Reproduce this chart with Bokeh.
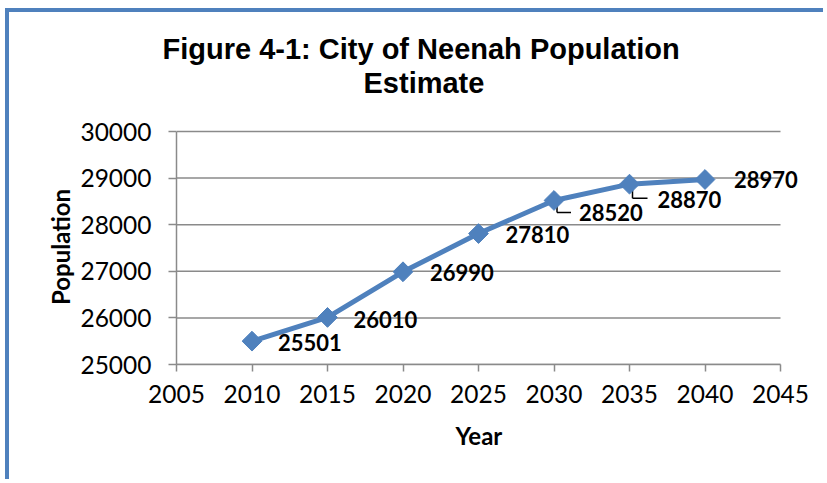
from bokeh.plotting import figure
from bokeh.models import (Title, FixedTicker, Range1d, ColumnDataSource, LabelSet,
                          LinearAxis)
from bokeh.core.properties import value
from bokeh.embed import file_html
from bokeh.resources import INLINE

# ---- data ----
years = [2010, 2015, 2020, 2025, 2030, 2035, 2040]
population = [25501, 26010, 26990, 27810, 28520, 28870, 28970]
x_ticks = [2005, 2010, 2015, 2020, 2025, 2030, 2035, 2040, 2045]
y_ticks = [25000, 26000, 27000, 28000, 29000, 30000]
title_lines = ["Figure 4-1:  City of Neenah Population", "Estimate"]
x_title = "Year"
y_title = "Population"

# label placement (pixels, styling only; negative dy = below the point)
label_dx = [26, 26, 27, 27, 25, 28, 29]
label_dy = [-1, -2, -1, -1, -12, -15, 0]
leader_idx = [4, 5]
leader_down = [12, 14]
leader_right = [14, 15]

BLUE = "#4F81BD"
GRID = "#8A8A8A"
FONT = "Lato"

W, H = 818, 471
px_x = 604 / 40.0        # pixels per year
px_y = 233 / 5000.0      # pixels per person
ML, MB = 167, 119
x0, x1 = x_ticks[0], x_ticks[-1]
y0, y1 = y_ticks[0], y_ticks[-1]
frame_w = 634                       # leaves room right of 2045 for the last label
frame_h = 235                       # a hair above 30000 so the top grid line is whole
MR = W - ML - frame_w
MT = H - MB - frame_h
xr_end = x0 + frame_w / px_x
yr_end = y0 + frame_h / px_y

p = figure(width=W, height=H, output_backend="svg", toolbar_location=None,
           x_range=Range1d(x0, xr_end), y_range=Range1d(y0, yr_end),
           min_border_left=ML, min_border_right=MR,
           min_border_top=MT, min_border_bottom=MB)
p.styles = {"border-top": "4px solid " + BLUE, "border-left": "4px solid " + BLUE,
            "margin-left": "5px", "margin-top": "8px"}

p.outline_line_color = None
p.background_fill_color = "white"
p.border_fill_color = "white"

# axes
xa = p.below[0]
ya = p.left[0]
xa.ticker = FixedTicker(ticks=x_ticks)
ya.ticker = FixedTicker(ticks=y_ticks)
for ax in (xa, ya):
    ax.axis_line_color = GRID
    ax.axis_line_width = 1.5
    ax.major_tick_line_color = GRID
    ax.major_tick_line_width = 1.5
    ax.major_tick_in = 0
    ax.minor_tick_line_color = None
    ax.major_label_text_font = FONT
    ax.major_label_text_font_size = "24.5px"
    ax.major_label_text_color = "black"
    ax.axis_label_text_font = FONT
    ax.axis_label_text_font_size = "24px"
    ax.axis_label_text_font_style = "bold"
    ax.axis_label_text_color = "black"
xa.bounds = (x0, x1)
ya.bounds = (y0, y1)
xa.major_tick_out = 7
ya.major_tick_out = 8
xa.major_label_standoff = 13
ya.major_label_standoff = 17
ya.axis_label = y_title
ya.axis_label_standoff = 2
xa.major_label_overrides = {v: str(v) for v in x_ticks}
ya.major_label_overrides = {v: str(v) for v in y_ticks}

# x axis title placed as a title below the axis, centred on 2005..2045
xt = Title(text=x_title, align="left", offset=279, vertical_align="bottom",
           text_font=FONT, text_font_size="24px", text_font_style="bold",
           text_color="black", standoff=26)
p.add_layout(xt, "below")

# invisible spacer between plot area and title
spacer = LinearAxis(ticker=FixedTicker(ticks=[x0]), axis_line_color=None,
                    major_tick_line_color=None, minor_tick_line_color=None,
                    major_tick_in=0, major_tick_out=31, minor_tick_out=0,
                    major_label_standoff=0, major_label_text_alpha=0,
                    major_label_overrides={x0: ""})
p.add_layout(spacer, "above")

t2 = Title(text=title_lines[1], align="left", offset=187, text_font="Liberation Sans",
           text_font_size="29px", text_font_style="bold", text_color="black",
           standoff=0)
p.add_layout(t2, "above")
t1 = Title(text=title_lines[0], align="left", offset=-14, text_font="Liberation Sans",
           text_font_size="29px", text_font_style="bold", text_color="black",
           standoff=0)
p.add_layout(t1, "above")

p.xgrid.grid_line_color = None
p.ygrid.grid_line_color = None
# horizontal grid lines only across 2005..2045
p.segment(x0=[x0] * len(y_ticks), y0=y_ticks, x1=[x1] * len(y_ticks), y1=y_ticks,
          line_color=GRID, line_width=1.5)

# leader lines (from point down, then right), converted from px to data units
lx0, ly0, lx1, ly1 = [], [], [], []
for i, d, r in zip(leader_idx, leader_down, leader_right):
    xs = years[i] + 3 / px_x
    ys = population[i]
    yb = population[i] - d / px_y
    xb = xs + r / px_x
    lx0 += [xs, xs]; ly0 += [ys, yb]; lx1 += [xs, xb]; ly1 += [yb, yb]
p.segment(x0=lx0, y0=ly0, x1=lx1, y1=ly1, line_color="black", line_width=1.5)

src = ColumnDataSource(dict(x=years, y=population, lab=[str(v) for v in population],
                            dx=label_dx, dy=label_dy))
p.line("x", "y", source=src, line_color=BLUE, line_width=5)
p.scatter("x", "y", source=src, marker="square", angle=0.785398, size=14,
          fill_color=BLUE, line_color=BLUE)
labels = LabelSet(x="x", y="y", text="lab", source=src, x_offset="dx", y_offset="dy",
                  text_align="left", text_baseline="middle", text_font_size="22px",
                  text_font_style="bold", text_color="black", text_font=value(FONT))
p.add_layout(labels)

open("out.html", "w").write(file_html(p, INLINE))
